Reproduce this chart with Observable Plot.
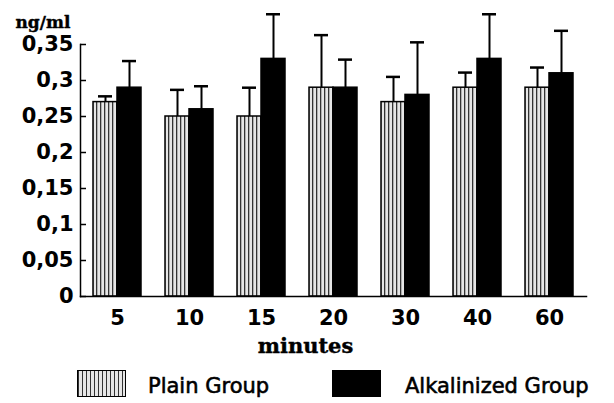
<!DOCTYPE html>
<html><head><meta charset="utf-8">
<script src="https://cdn.jsdelivr.net/npm/d3@7"></script>
<script src="https://cdn.jsdelivr.net/npm/@observablehq/plot@0.6"></script>
<style>
body{margin:0;background:#fff;}
#wrap{position:relative;width:614px;height:403px;overflow:hidden;background:#fff;}
.leg{position:absolute;font-family:"DejaVu Sans";font-size:21px;color:#000;-webkit-text-stroke:0.6px #000;line-height:1;white-space:nowrap;}
.sw{position:absolute;box-sizing:border-box;border:1.5px solid #000;}
</style></head><body><div id="wrap"></div>
<script>
// ---- data ----
const minutes = ["5", "10", "15", "20", "30", "40", "60"];
const plainMean = [0.27, 0.25, 0.25, 0.29, 0.27, 0.29, 0.29];
const plainErr  = [0.008, 0.037, 0.040, 0.073, 0.035, 0.021, 0.028];
const alkMean   = [0.29, 0.26, 0.33, 0.29, 0.28, 0.33, 0.31];
const alkErr    = [0.037, 0.032, 0.062, 0.039, 0.073, 0.062, 0.059];
const yTicks = [0, 0.05, 0.1, 0.15, 0.2, 0.25, 0.3, 0.35];
const seriesNames = ["Plain Group", "Alkalinized Group"];
const yLabel = "ng/ml";
const xLabel = "minutes";

const plain = minutes.map((m, i) => ({minute: m, value: plainMean[i], err: plainErr[i]}));
const alk = minutes.map((m, i) => ({minute: m, value: alkMean[i], err: alkErr[i]}));

// ---- layout ----
const W = 614, H = 362, mL = 80, mR = 28, mT = 44, mB = 66;
const pi = 0.336, po = 0.168;
const step = (W - mL - mR) / (minutes.length - pi + 2 * po);
const bw = step * (1 - pi);
const half = bw / 2, q = bw / 4, cap = 7;
const ink = "#000";
const sans = "DejaVu Sans";
const serif = "DejaVu Serif";

const chart = Plot.plot({
  width: W, height: H,
  marginLeft: mL, marginRight: mR, marginTop: mT, marginBottom: mB,
  x: {domain: minutes, paddingInner: pi, paddingOuter: po},
  y: {domain: [0, 0.35]},
  style: {background: "white", color: ink},
  marks: [
    Plot.barY(plain, {x: "minute", y: "value", insetRight: half, fill: "url(#stripes)", stroke: ink, strokeWidth: 1.5}),
    Plot.barY(alk, {x: "minute", y: "value", insetLeft: half, fill: ink, stroke: ink, strokeWidth: 1.5}),
    Plot.ruleX(plain, {x: "minute", y1: "value", y2: d => d.value + d.err, dx: -q, stroke: ink, strokeWidth: 2}),
    Plot.ruleX(alk, {x: "minute", y1: "value", y2: d => d.value + d.err, dx: q, stroke: ink, strokeWidth: 2}),
    Plot.tickY(plain, {x: "minute", y: d => d.value + d.err, insetLeft: q - cap, insetRight: 3 * q - cap, stroke: ink, strokeWidth: 2.5}),
    Plot.tickY(alk, {x: "minute", y: d => d.value + d.err, insetLeft: 3 * q - cap, insetRight: q - cap, stroke: ink, strokeWidth: 2.5}),
    Plot.frame({anchor: "left", stroke: ink, strokeWidth: 1.5}),
    Plot.frame({anchor: "bottom", stroke: ink, strokeWidth: 1.5}),
    // inward tick marks on the y axis
    Plot.tickY(yTicks, {y: d => d, insetRight: W - mL - mR - 6, stroke: ink, strokeWidth: 1.5}),
    Plot.axisY(yTicks, {anchor: "left", tickSize: 0, tickPadding: 7,
      tickFormat: d => String(d).replace(".", ","), label: null,
      fontFamily: sans, fontWeight: "bold", fontSize: 21}),
    Plot.axisX({anchor: "bottom", tickSize: 0, tickPadding: 14, label: null,
      fontFamily: sans, fontWeight: "bold", fontSize: 21}),
    Plot.text([xLabel], {text: d => d, frameAnchor: "bottom", dx: -28, dy: 50, lineAnchor: "middle",
      fontFamily: serif, fontWeight: "bold", fontSize: 21, fill: ink, stroke: ink, strokeWidth: 0.4}),
    Plot.text([yLabel], {text: d => d, frameAnchor: "top-left", textAnchor: "start", dx: -65, dy: -22, lineAnchor: "middle",
      fontFamily: serif, fontWeight: "bold", fontSize: 17, fill: ink, stroke: ink, strokeWidth: 0.4})
  ]
});

// stripe pattern for the plain group
const defs = d3.select(chart).insert("defs", ":first-child");
const pat = defs.append("pattern").attr("id", "stripes").attr("patternUnits", "userSpaceOnUse")
  .attr("width", 4).attr("height", 10);
pat.append("rect").attr("width", 4).attr("height", 10).attr("fill", "#e6e6e6");
pat.append("rect").attr("width", 1.3).attr("height", 10).attr("fill", "#333333");

const wrap = document.getElementById("wrap");
wrap.appendChild(chart);

// legend (HTML, below the chart)
const legendItems = [
  {name: seriesNames[0], swLeft: 77, textLeft: 148, bg: "repeating-linear-gradient(to right, #333333 0 1.3px, #e6e6e6 1.3px 4px)"},
  {name: seriesNames[1], swLeft: 332, textLeft: 405, bg: ink}
];
for (const it of legendItems) {
  const sw = document.createElement("div");
  sw.className = "sw";
  Object.assign(sw.style, {left: it.swLeft + "px", top: "370px", width: "49px", height: "27px", background: it.bg});
  wrap.appendChild(sw);
  const tx = document.createElement("div");
  tx.className = "leg";
  Object.assign(tx.style, {left: it.textLeft + "px", top: "376px"});
  tx.textContent = it.name;
  wrap.appendChild(tx);
}
</script></body></html>
